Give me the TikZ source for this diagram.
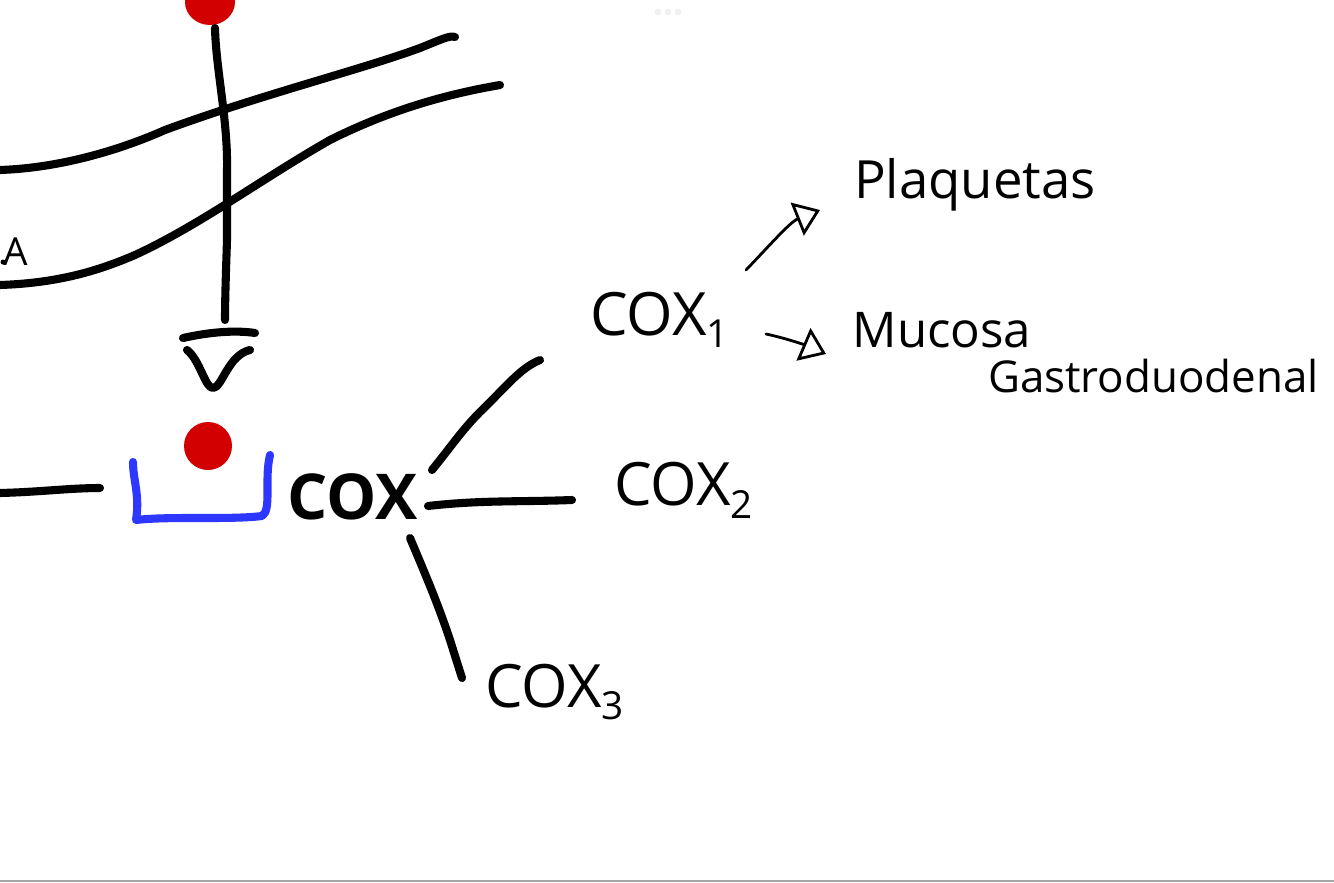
\documentclass[tikz,border=0pt]{standalone}
\usepackage{fontspec}
\setmainfont{Open Sans}
\usetikzlibrary{arrows.meta,positioning}
\definecolor{inkred}{RGB}{210,0,0}
\definecolor{inkblue}{RGB}{45,55,255}
\tikzset{
  ink/.style={line width=4.6pt, line cap=round, line join=round},
  pen/.style={line width=1.6pt, line cap=round, -{Triangle[open,length=14pt,width=20pt,line width=1.6pt]}},
  word/.style={inner sep=0pt, font=\fontsize{30}{34}\selectfont},
  coxword/.style={inner sep=0pt, font=\fontsize{34}{38}\selectfont},
  dot/.style={fill=inkred}
}

\begin{document}
\begin{tikzpicture}[x=0.02cm,y=-0.02cm]
  \useasboundingbox (0,0) rectangle (1334,882);
  \draw[gray!70, line width=1pt] (0,881) -- (1334,881);
  \foreach \x in {658,668,678}{\fill[gray!12] (\x,12) circle (3.5);}

  % upper part: two curves and the descending line
  \fill[dot] (210,2) ellipse (25 and 23);
  \draw[ink] (0,170) .. controls (60,168) and (120,150) .. (165,130)
             .. controls (260,95) and (360,70) .. (420,48)
             .. controls (440,40) and (450,35) .. (455,37);
  \draw[ink] (0,285) .. controls (60,283) and (100,270) .. (135,255)
             .. controls (200,225) and (260,180) .. (330,140)
             .. controls (400,105) and (460,92) .. (500,85);
  \draw[ink] (215,28) .. controls (216,70) and (228,120) .. (227,170)
             -- (227,240) .. controls (226,270) and (225,300) .. (225,320);
  \node[inner sep=0pt, font=\fontsize{22}{26}\selectfont] (a) at (16,252) {A};
  \fill (3,262) circle (2.5);

  % open arrow head
  \draw[ink] (183,338) .. controls (210,332) and (235,330) .. (255,333);
  \draw[ink] (187,350) .. controls (200,360) and (205,388) .. (213,388)
             .. controls (222,388) and (228,355) .. (250,350);

  % receptor
  \fill[dot] (208,446) ellipse (24 and 24);
  \draw[inkblue, ink] (133,462) .. controls (133,480) and (140,495) .. (136,520)
        .. controls (170,516) and (230,520) .. (262,516)
        .. controls (272,510) and (264,480) .. (270,455);
  \draw[ink] (0,493) .. controls (40,492) and (70,488) .. (100,488);

  % cox and its isoforms
  \node[coxword, font=\fontsize{36}{40}\bfseries\selectfont] (cox) at (353,497) {COX};
  \node[coxword] (cox1) at (660,320) {COX\textsubscript{\fontsize{22}{24}\selectfont 1}};
  \node[coxword] (cox2) at (684,490) {COX\textsubscript{\fontsize{22}{24}\selectfont 2}};
  \node[coxword] (cox3) at (555,692) {COX\textsubscript{\fontsize{22}{24}\selectfont 3}};
  \coordinate (b1) at (432,470);
  \coordinate (b2) at (428,506);
  \coordinate (b3) at (410,538);
  \draw[ink] (b1) .. controls (450,448) and (462,430) .. (480,412)
             .. controls (505,388) and (520,368) .. (540,360);
  \draw[ink] (b2) .. controls (480,500) and (520,502) .. (572,500);
  \draw[ink] (b3) .. controls (430,585) and (440,610) .. (450,640) -- (462,678);

  % effects of cox1
  \node[word] (plaq) at (975,185) {Plaquetas};
  \node[word, font=\fontsize{28}{32}\selectfont] (muc) at (942,330) {Mucosa};
  \node[word, font=\fontsize{25}{28}\selectfont, below right=6pt and -25pt of muc] (gastro) {Gastroduodenal};
  \draw[pen] (746,270) .. controls (770,245) and (790,222) .. (820,210);
  \draw[pen] (766,334) .. controls (785,338) and (805,345) .. (826,354);
\end{tikzpicture}
\end{document}
